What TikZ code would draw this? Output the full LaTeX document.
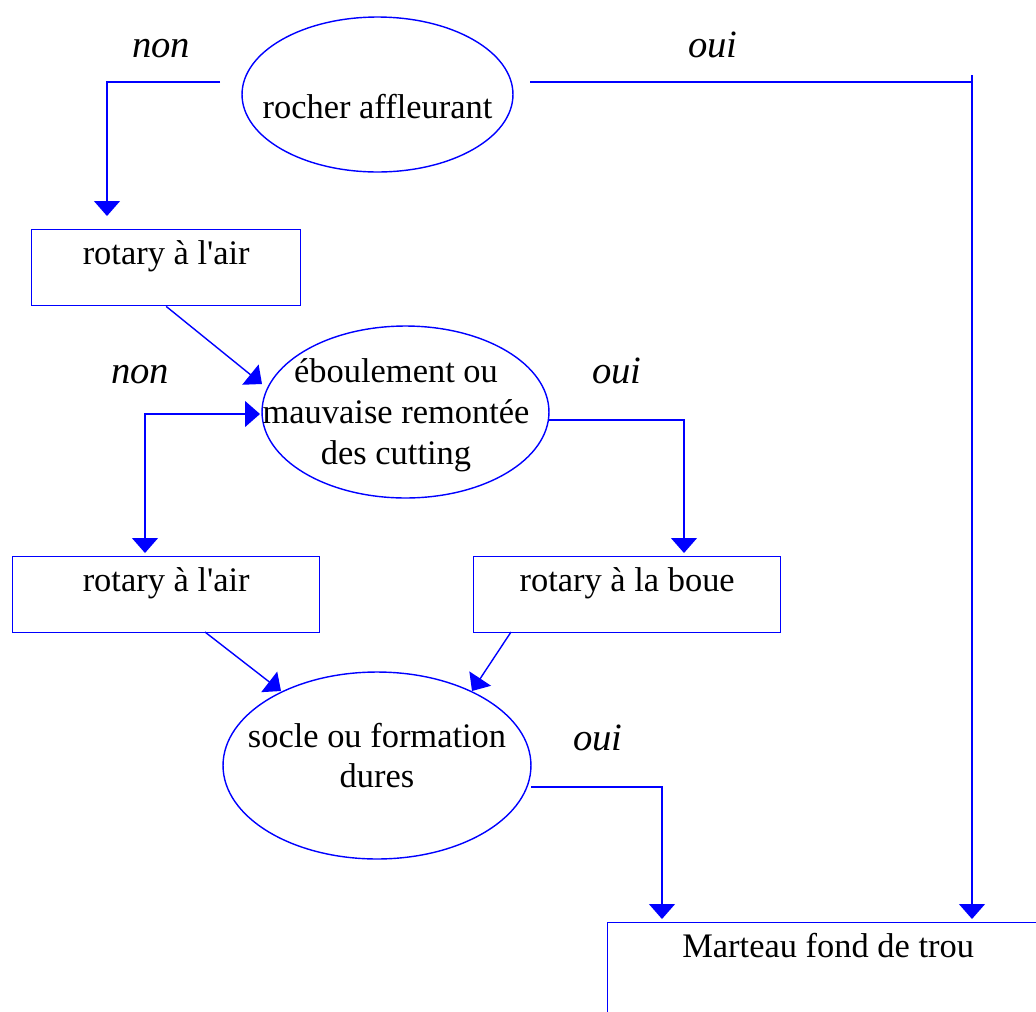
\documentclass[tikz,border=0pt]{standalone}
\usepackage{fontspec}
\setmainfont{Liberation Serif}[Ligatures=TeXOff]
\usetikzlibrary{shapes.geometric, arrows.meta}
\definecolor{flowblue}{HTML}{0000FF}

\begin{document}
\begin{tikzpicture}[x=0.02cm, y=-0.02cm, font=\fontsize{19.6}{23.2}\selectfont,
    box/.style={draw=flowblue, line width=0.8pt, rectangle, anchor=north west,
      inner xsep=0pt, inner ysep=0.2cm, text height=0.5cm, text depth=0.62cm},
    bulle/.style={draw=flowblue, line width=0.8pt, ellipse, inner sep=0pt},
    rep/.style={font=\fontsize{22}{26}\selectfont\itshape, anchor=base},
    fleche/.style={flowblue, line width=0.8pt, -{Triangle[width=14.7pt, length=8.5pt]}},
    trait/.style={flowblue, line width=0.8pt}]
    \useasboundingbox (0,0) rectangle (1036,1012);
    \clip (0,0) rectangle (1036,1012);

    % questions
    \node[bulle, minimum width=5.42cm, minimum height=3.10cm,
      label={[yshift=-0.25cm]center:rocher affleurant}] (rocher) at (377.5,94.5) {};
    \node[bulle, minimum width=5.74cm, minimum height=3.44cm,
      label={[align=center, xshift=-0.19cm, yshift=-0.06cm]center:éboulement ou\\mauvaise remontée\\des cutting}] (eboul) at (405.5,412) {};
    \node[bulle, minimum width=6.16cm, minimum height=3.74cm,
      label={[align=center, yshift=0.2cm]center:socle ou formation\\dures}] (socle) at (377,765.5) {};

    % methodes
    \node[box, minimum width=5.38cm] (air1) at (31,229) {rotary à l'air};
    \node[box, minimum width=6.14cm] (air2) at (12,556) {rotary à l'air};
    \node[box, minimum width=6.14cm] (boue) at (473,556) {rotary à la boue};
    \node[box, minimum width=8.82cm, text depth=1.5cm] (marteau) at (607,922) {Marteau fond de trou};

    % reponses
    \node[rep] (non1) at (161,57) {non};
    \node[rep] (oui1) at (713,57) {oui};
    \node[rep] (non2) at (140,383) {non};
    \node[rep] (oui2) at (617,383) {oui};
    \node[rep] (oui3) at (598,750) {oui};

    % points d'attache
    \coordinate (rocherW) at (220,82);
    \coordinate (rocherE) at (530,82);
    \coordinate (coin) at (972,82);
    \coordinate (coinH) at (972,75);
    \coordinate (air1in) at (107,216);
    \coordinate (eboulin1) at (262,384);
    \coordinate (eboulin2) at (260,414);
    \coordinate (eboulE) at (549,420);
    \coordinate (air2in) at (145,553);
    \coordinate (bouein) at (684,553);
    \coordinate (air2out) at (205,632);
    \coordinate (boueout) at (511,632);
    \coordinate (soclein1) at (281,691);
    \coordinate (soclein2) at (472,691);
    \coordinate (socleE) at (531,787);
    \coordinate (marteauin1) at (662,919);
    \coordinate (marteauin2) at (972,919);

    \draw[fleche] (rocherW) -| (air1in);
    \draw[trait] (rocherE) -- (coin);
    \draw[fleche] (coinH) -- (marteauin2);
    \draw[fleche] (air1.south) -- (eboulin1);
    \draw[fleche, {Triangle[width=14.7pt, length=8.5pt]}-{Triangle[width=14.7pt, length=8.5pt]}] (eboulin2) -| (air2in);
    \draw[fleche] (eboulE) -| (bouein);
    \draw[fleche] (air2out) -- (soclein1);
    \draw[fleche] (boueout) -- (soclein2);
    \draw[fleche] (socleE) -| (marteauin1);
\end{tikzpicture}
\end{document}
